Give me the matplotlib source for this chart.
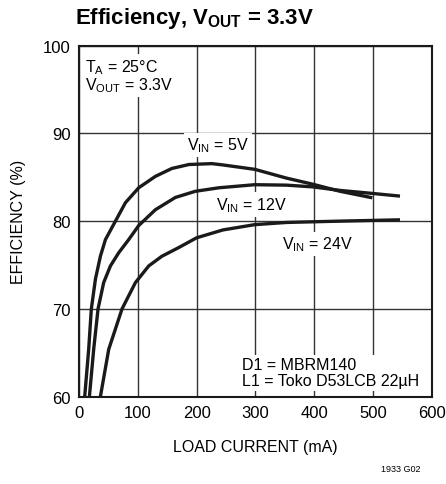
import matplotlib
matplotlib.use("Agg")
import matplotlib.pyplot as plt

plt.rcParams['font.family'] = ['Liberation Sans', 'DejaVu Sans']
plt.rcParams['mathtext.fontset'] = 'custom'
plt.rcParams['mathtext.rm'] = 'Liberation Sans'
plt.rcParams['mathtext.it'] = 'Liberation Sans'
plt.rcParams['mathtext.bf'] = 'Liberation Sans:bold'

# load current (mA) vs efficiency (%)
i_5v = [9.7, 16.5, 21, 28, 36.4, 45, 62, 79, 101.6, 130, 158, 187, 226, 245, 299, 353, 398, 444, 499]
eff_5v = [60, 65.4, 70, 73.4, 76, 77.9, 80.0, 82.1, 83.8, 85.1, 86.0, 86.45, 86.55, 86.4, 85.9, 84.9, 84.2, 83.4, 82.66]

i_12v = [17.7, 25, 32.4, 42, 53.5, 67.6, 84.6, 101.6, 130, 164, 198, 238, 299, 353, 398, 444, 500, 546]
eff_12v = [60, 65.4, 70, 73, 74.9, 76.4, 77.9, 79.5, 81.3, 82.7, 83.4, 83.8, 84.15, 84.1, 83.9, 83.5, 83.15, 82.85]

i_24v = [36.4, 50.6, 73.2, 96, 118.7, 141, 170, 200, 245, 299, 353, 444, 546]
eff_24v = [60, 65.4, 70, 73, 74.9, 76, 77, 78.1, 79.0, 79.6, 79.85, 80.0, 80.15]

x_ticks = [0, 100, 200, 300, 400, 500, 600]
y_ticks = [60, 70, 80, 90, 100]

fig = plt.figure(figsize=(4.46, 4.85), dpi=100)
ax = fig.add_axes([0.1771, 0.18, 0.7909, 0.724])

for x, y in [(i_5v, eff_5v), (i_12v, eff_12v), (i_24v, eff_24v)]:
    ax.plot(x, y, color='#1a1a1a', lw=2.4, solid_capstyle='butt',
            solid_joinstyle='round', zorder=3)

ax.set_xlim(0, 600)
ax.set_ylim(60, 100)
ax.set_xticks(x_ticks)
ax.set_yticks(y_ticks)
ax.tick_params(length=0, labelsize=12, pad=6)
ax.grid(True, color='#333333', lw=1)
ax.set_axisbelow(True)
for s in ax.spines.values():
    s.set_linewidth(1.5)
    s.set_color('#1a1a1a')

fs = 11.5
box = dict(facecolor='white', edgecolor='none', pad=2)
ax.text(236, 88.7, '$\\mathregular{V_{IN}}$ = 5V', fontsize=fs, ha='center', va='center', bbox=box, zorder=2)
ax.text(294, 81.9, '$\\mathregular{V_{IN}}$ = 12V', fontsize=fs, ha='center', va='center', bbox=box, zorder=2)
ax.text(405, 77.4, '$\\mathregular{V_{IN}}$ = 24V', fontsize=fs, ha='center', va='center', bbox=box, zorder=2)
ax.text(10, 98.7, '$\\mathregular{T_A}$ = 25°C\n$\\mathregular{V_{OUT}}$ = 3.3V', fontsize=fs,
        ha='left', va='top', linespacing=1.0, bbox=box, zorder=2)
ax.text(277, 61.0, 'D1 = MBRM140\nL1 = Toko D53LCB 22µH', fontsize=fs,
        ha='left', va='bottom', linespacing=1.05, bbox=box, zorder=2)

ax.set_xlabel('LOAD CURRENT (mA)', fontsize=fs, labelpad=14)
ax.set_ylabel('EFFICIENCY (%)', fontsize=fs, labelpad=12)

fig.text(0.437, 0.962, 'Efficiency, $\\mathbf{V_{OUT}}$ = 3.3V', fontsize=16,
         fontweight='bold', ha='center', va='center')
fig.text(0.942, 0.022, '1933 G02', fontsize=6.5, ha='right', va='bottom')

fig.savefig('out.png', dpi=100)
